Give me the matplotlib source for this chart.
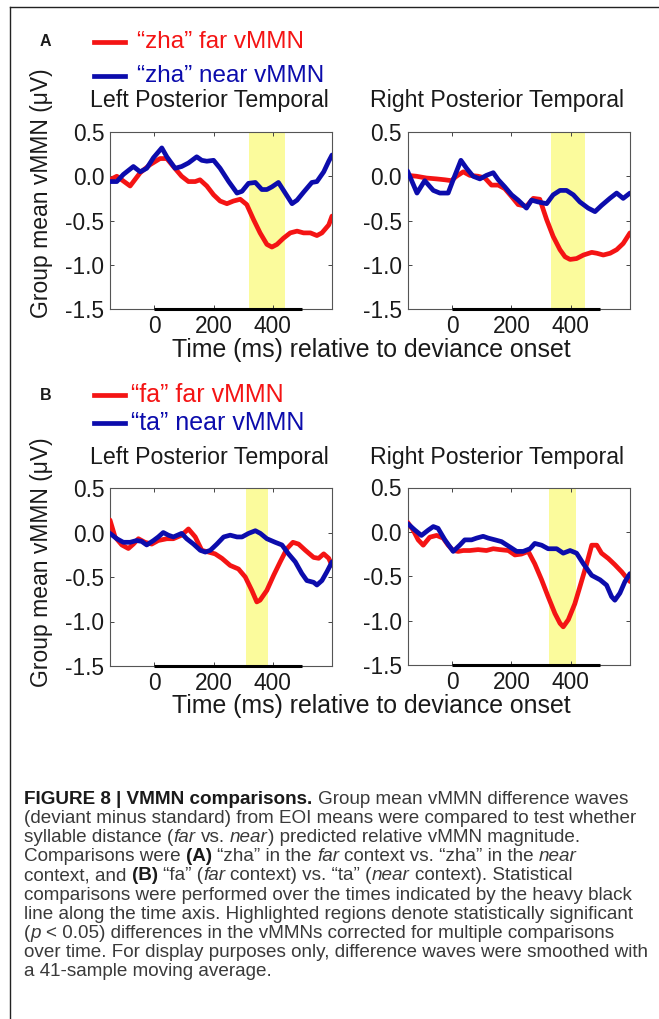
import matplotlib
matplotlib.use('Agg')
import matplotlib.pyplot as plt
from matplotlib.lines import Line2D

plt.rcParams['font.family'] = ['Liberation Sans', 'DejaVu Sans']
plt.rcParams['axes.unicode_minus'] = False

W, H = 659, 1019

# ---- data (time in ms, amplitude in uV) ----
# A: "zha" far / near, left posterior temporal
a_left_far_t = [-150, -127, -82, -48, -15, 19, 42, 64, 92, 115, 138, 154, 177, 200, 222, 245, 267, 290, 312,
                335, 357, 380, 397, 414, 436, 459, 482, 504, 527, 549, 566, 589, 600]
a_left_far_v = [-0.04, 0.0, -0.11, 0.04, 0.13, 0.2, 0.2, 0.11, 0.0, -0.06, -0.06, -0.04, -0.11, -0.21, -0.28,
                -0.31, -0.28, -0.26, -0.32, -0.49, -0.64, -0.77, -0.80, -0.77, -0.70, -0.64, -0.62, -0.64, -0.64,
                -0.67, -0.64, -0.55, -0.45]
a_left_near_t = [-150, -127, -105, -71, -48, -26, -3, 25, 42, 70, 92, 115, 143, 160, 177, 200, 222, 251, 279,
                 296, 318, 341, 363, 380, 397, 419, 442, 465, 482, 504, 532, 549, 572, 589, 600]
a_left_near_v = [-0.06, -0.06, 0.02, 0.11, 0.05, 0.09, 0.21, 0.32, 0.22, 0.09, 0.11, 0.15, 0.22, 0.18, 0.17,
                 0.18, 0.09, -0.06, -0.19, -0.17, -0.08, -0.07, -0.15, -0.15, -0.12, -0.07, -0.19, -0.31, -0.27,
                 -0.18, -0.07, -0.06, 0.05, 0.17, 0.24]
# A: right posterior temporal
a_right_far_t = [-150, -120, -86, -52, -24, -2, 15, 38, 60, 88, 111, 133, 156, 178, 201, 223, 251, 274, 296,
                 319, 341, 364, 381, 398, 420, 443, 471, 488, 510, 533, 555, 577, 600]
a_right_far_v = [0.01, 0.0, -0.02, -0.03, -0.04, -0.05, 0.0, 0.05, 0.01, 0.0, -0.02, -0.1, -0.1, -0.14, -0.23,
                 -0.32, -0.34, -0.25, -0.26, -0.49, -0.68, -0.83, -0.91, -0.94, -0.93, -0.89, -0.86, -0.87,
                 -0.89, -0.87, -0.83, -0.76, -0.64]
a_right_near_t = [-150, -118, -92, -63, -41, -13, 4, 30, 49, 71, 94, 116, 139, 156, 178, 201, 223, 251, 268,
                  290, 319, 341, 364, 386, 409, 431, 459, 482, 504, 532, 555, 577, 600]
a_right_near_v = [0.06, -0.19, -0.05, -0.16, -0.19, -0.19, -0.04, 0.18, 0.09, 0.0, -0.03, 0.01, 0.04, -0.04,
                  -0.12, -0.21, -0.27, -0.36, -0.27, -0.29, -0.31, -0.21, -0.16, -0.16, -0.21, -0.29, -0.36,
                  -0.40, -0.33, -0.25, -0.19, -0.25, -0.19]
# B: "fa" far / "ta" near, left posterior temporal
b_left_far_t = [-150, -133, -110, -88, -71, -54, -32, -9, 13, 42, 64, 92, 115, 138, 160, 183, 205, 228, 256,
                284, 307, 329, 346, 357, 380, 403, 425, 448, 468, 487, 510, 538, 555, 572, 589, 600]
b_left_far_v = [0.14, -0.05, -0.14, -0.18, -0.13, -0.07, -0.11, -0.13, -0.09, -0.07, -0.07, -0.03, 0.04, -0.05,
                -0.2, -0.22, -0.24, -0.29, -0.37, -0.41, -0.5, -0.65, -0.78, -0.76, -0.65, -0.48, -0.33, -0.18,
                -0.11, -0.13, -0.2, -0.28, -0.29, -0.24, -0.29, -0.37]
b_left_near_t = [-150, -127, -105, -82, -60, -43, -26, -3, 13, 30, 47, 64, 92, 109, 132, 155, 172, 189, 211,
                 234, 256, 279, 296, 318, 341, 358, 380, 408, 431, 453, 476, 498, 515, 538, 549, 566, 583, 600]
b_left_near_v = [-0.01, -0.07, -0.11, -0.11, -0.09, -0.1, -0.14, -0.09, -0.05, 0.0, -0.03, -0.05, -0.01, -0.07,
                 -0.13, -0.2, -0.22, -0.2, -0.13, -0.05, -0.03, -0.05, -0.05, -0.01, 0.02, -0.01, -0.07, -0.11,
                 -0.14, -0.24, -0.33, -0.46, -0.54, -0.56, -0.59, -0.54, -0.44, -0.33]
# B: right posterior temporal
b_right_far_t = [-150, -131, -114, -97, -75, -52, -30, -13, 4, 21, 38, 60, 88, 116, 139, 161, 190, 212, 234,
                 257, 279, 302, 324, 347, 364, 375, 392, 414, 431, 454, 471, 488, 504, 527, 549, 572, 594, 600]
b_right_far_v = [0.11, 0.02, -0.09, -0.15, -0.06, -0.04, -0.07, -0.15, -0.21, -0.22, -0.21, -0.21, -0.2, -0.21,
                 -0.19, -0.2, -0.21, -0.26, -0.25, -0.22, -0.36, -0.54, -0.73, -0.92, -1.03, -1.07, -0.99, -0.81,
                 -0.62, -0.36, -0.15, -0.15, -0.24, -0.30, -0.37, -0.45, -0.54, -0.56]
b_right_near_t = [-150, -125, -103, -80, -63, -47, -24, 4, 26, 43, 66, 83, 105, 122, 145, 167, 195, 218, 240,
                  263, 279, 302, 324, 353, 375, 398, 420, 443, 471, 499, 521, 538, 549, 566, 583, 600]
b_right_near_v = [0.095, 0.02, -0.04, 0.02, 0.06, 0.04, -0.09, -0.22, -0.15, -0.09, -0.09, -0.07, -0.05, -0.07,
                  -0.09, -0.11, -0.17, -0.22, -0.22, -0.19, -0.13, -0.15, -0.19, -0.19, -0.24, -0.21, -0.24,
                  -0.36, -0.49, -0.54, -0.6, -0.73, -0.77, -0.69, -0.56, -0.47]

# significant windows (ms) and tested window
a_left_sig = (320, 440)
a_right_sig = (333, 448)
b_left_sig = (308, 385)
b_right_sig = (327, 418)
test_window = (0, 500)

titles = ['Left Posterior Temporal', 'Right Posterior Temporal']
a_labels = ['\u201czha\u201d far vMMN', '\u201czha\u201d near vMMN']
b_labels = ['\u201cfa\u201d far vMMN', '\u201cta\u201d near vMMN']
xticks = [0, 200, 400]
yticks = [0.5, 0.0, -0.5, -1.0, -1.5]
ytick_labels = ['0.5', '0.0', '-0.5', '-1.0', '-1.5']

RED = '#f41414'
BLUE = '#0c0cac'
YELLOW = '#fbfb9c'
TXT = '#1a1a1a'

fig = plt.figure(figsize=(W / 100, H / 100), dpi=100)


def fx(x):
    return x / W


def fy(y):
    return 1 - y / H


def rect(x0, y0, x1, y1):
    return [fx(x0), fy(y1), (x1 - x0) / W, (y1 - y0) / H]


def panel(r, far_t, far_v, near_t, near_v, sig):
    ax = fig.add_axes(r)
    ax.axvspan(sig[0], sig[1], color=YELLOW, lw=0, zorder=0)
    ax.plot(far_t, far_v, color=RED, lw=3.4, solid_joinstyle='round', solid_capstyle='round', zorder=3)
    ax.plot(near_t, near_v, color=BLUE, lw=3.4, solid_joinstyle='round', solid_capstyle='round', zorder=4)
    ax.plot(test_window, [-1.5, -1.5], color='black', lw=2.2, solid_capstyle='butt', clip_on=False, zorder=5)
    ax.set_xlim(-150, 600)
    ax.set_ylim(-1.5, 0.5)
    ax.set_xticks(xticks)
    ax.set_yticks(yticks)
    ax.set_yticklabels(ytick_labels)
    ax.tick_params(direction='in', top=True, right=True, length=3, width=0.7, colors='#444444',
                   labelsize=16.4, labelcolor=TXT, pad=4)
    for s in ax.spines.values():
        s.set_color('#555555')
        s.set_linewidth(0.8)
    return ax


panel(rect(110, 132, 332, 309), a_left_far_t, a_left_far_v, a_left_near_t, a_left_near_v, a_left_sig)
panel(rect(407.5, 132, 630, 309), a_right_far_t, a_right_far_v, a_right_near_t, a_right_near_v, a_right_sig)
panel(rect(110, 488, 332, 666), b_left_far_t, b_left_far_v, b_left_near_t, b_left_near_v, b_left_sig)
panel(rect(407.5, 487.5, 630, 665), b_right_far_t, b_right_far_v, b_right_near_t, b_right_near_v, b_right_sig)

# panel letters, legends, titles, axis labels
for letter, ly, rows, labels, tx, fs in [('A', 42, (42, 76), a_labels, 137, 17.5),
                                         ('B', 395, (395, 423), b_labels, 131, 18.0)]:
    fig.text(fx(40), fy(ly), letter, fontsize=11.5, fontweight='bold', color=TXT, va='center', ha='left')
    for yy, lab, col in zip(rows, labels, [RED, BLUE]):
        fig.add_artist(Line2D([fx(94), fx(125)], [fy(yy), fy(yy)], color=col, lw=3.4))
        fig.text(fx(tx), fy(yy), lab, fontsize=fs, color=col, va='center', ha='left')

for ty in (100, 458):
    fig.text(fx(209), fy(ty), titles[0], fontsize=16.7, color=TXT, ha='center', va='center')
    fig.text(fx(497), fy(ty), titles[1], fontsize=16.7, color=TXT, ha='center', va='center')

for cy in (193, 562):
    fig.text(fx(42), fy(cy), 'Group mean vMMN (\u03bcV)', fontsize=16.5, color=TXT, rotation=90,
             ha='center', va='center')
for cy in (350, 706):
    fig.text(fx(371), fy(cy), 'Time (ms) relative to deviance onset', fontsize=17.9, color=TXT,
             ha='center', va='center')

# frame around the figure (only top and left edges visible)
fig.add_artist(Line2D([fx(10), 1.0], [fy(7), fy(7)], color='#222222', lw=1.0))
fig.add_artist(Line2D([fx(10), fx(10)], [fy(7), 0.0], color='#222222', lw=1.0))

# caption, drawn run by run so bold / italic pieces sit inline
caption = [
    [('FIGURE 8 | VMMN comparisons.', 'b'), (' Group mean vMMN difference waves', 'n')],
    [('(deviant minus standard) from EOI means were compared to test whether', 'n')],
    [('syllable distance (', 'n'), ('far', 'i'), (' vs. ', 'n'), ('near', 'i'),
     (') predicted relative vMMN magnitude.', 'n')],
    [('Comparisons were ', 'n'), ('(A)', 'b'), (' \u201czha\u201d in the ', 'n'), ('far', 'i'),
     (' context vs. \u201czha\u201d in the ', 'n'), ('near', 'i')],
    [('context, and ', 'n'), ('(B)', 'b'), (' \u201cfa\u201d (', 'n'), ('far', 'i'),
     (' context) vs. \u201cta\u201d (', 'n'), ('near', 'i'), (' context). Statistical', 'n')],
    [('comparisons were performed over the times indicated by the heavy black', 'n')],
    [('line along the time axis. Highlighted regions denote statistically significant', 'n')],
    [('(', 'n'), ('p', 'i'), (' < 0.05) differences in the vMMNs corrected for multiple comparisons', 'n')],
    [('over time. For display purposes only, difference waves were smoothed with', 'n')],
    [('a 41-sample moving average.', 'n')],
]

cap_family = ['Liberation Sans Narrow', 'Liberation Sans', 'DejaVu Sans']
cap_size = 13.6
styles = {
    'n': dict(fontweight='normal', fontstyle='normal', color='#3a3a3a'),
    'b': dict(fontweight='bold', fontstyle='normal', color='#1a1a1a'),
    'i': dict(fontweight='normal', fontstyle='italic', color='#3a3a3a'),
}
renderer = fig.canvas.get_renderer()


def text_w(s, st):
    t = fig.text(0, 0, s, family=cap_family, fontsize=cap_size, **styles[st])
    w = t.get_window_extent(renderer).width
    t.remove()
    return w


space_w = {k: text_w('n n', k) - text_w('nn', k) for k in styles}

for i, line in enumerate(caption):
    x = 24.0
    y = 797 + i * 19.2
    for s, st in line:
        core = s.strip(' ')
        lead = len(s) - len(s.lstrip(' '))
        trail = len(s) - len(s.rstrip(' '))
        x += lead * space_w[st]
        t = fig.text(fx(x), fy(y), core, family=cap_family, fontsize=cap_size, va='center_baseline',
                     ha='left', **styles[st])
        x += t.get_window_extent(renderer).width
        x += trail * space_w[st]

fig.savefig('out.png', dpi=100)
